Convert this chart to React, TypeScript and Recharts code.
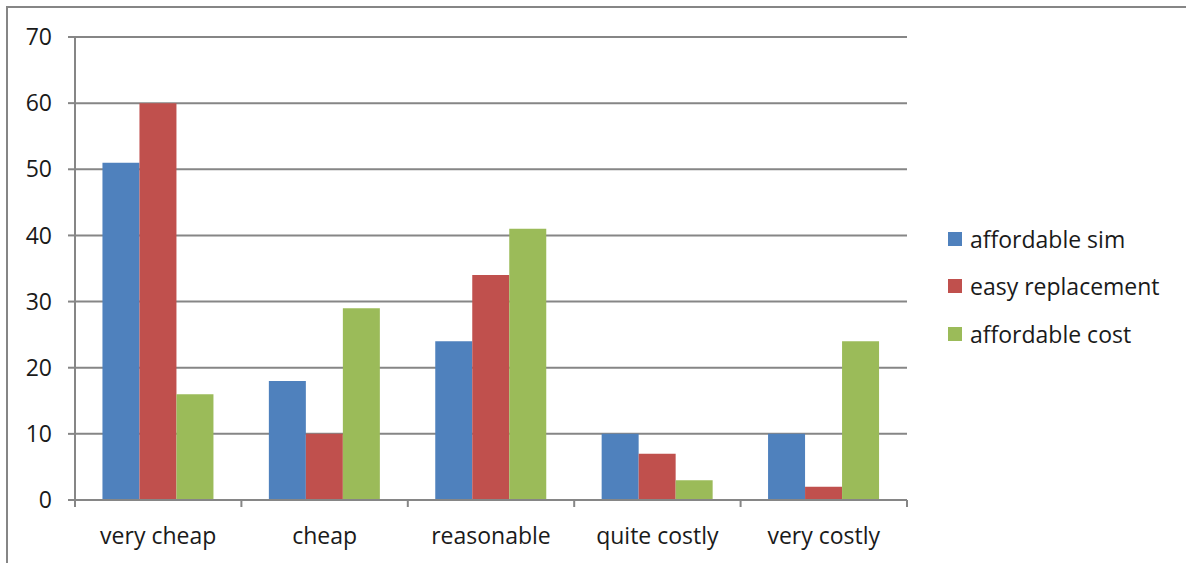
import React from "react";
import { Bar, BarChart, CartesianGrid, XAxis, YAxis } from "recharts";

const categories = ["very cheap", "cheap", "reasonable", "quite costly", "very costly"];
const affordableSim = [51, 18, 24, 10, 10];
const easyReplacement = [60, 10, 34, 7, 2];
const affordableCost = [16, 29, 41, 3, 24];
const yTicks = [0, 10, 20, 30, 40, 50, 60, 70];

const SERIES = [
  { key: "sim", name: "affordable sim", color: "#4F81BD" },
  { key: "repl", name: "easy replacement", color: "#C0504D" },
  { key: "cost", name: "affordable cost", color: "#9BBB59" },
];

const GRAY = "#868686";
const TEXT = "#1a1a1a";
const FONT = "'Open Sans', sans-serif";
const PLOT_LEFT = 75;
const PLOT_RIGHT = 907;
const STEP = (PLOT_RIGHT - PLOT_LEFT) / categories.length;

const data = categories.map((c, i) => ({
  name: c,
  sim: affordableSim[i],
  repl: easyReplacement[i],
  cost: affordableCost[i],
}));

function CatTick(props: any) {
  const { x, y, payload, index } = props;
  const last = index === categories.length - 1;
  return (
    <g>
      <line x1={x - STEP / 2} x2={x - STEP / 2} y1={y} y2={y + 7} stroke={GRAY} strokeWidth={2} />
      {last ? (
        <line x1={x + STEP / 2} x2={x + STEP / 2} y1={y} y2={y + 7} stroke={GRAY} strokeWidth={2} />
      ) : null}
      <text x={x} y={y + 44} textAnchor="middle" fontSize={23} fontFamily={FONT} fill={TEXT}>
        {payload.value}
      </text>
    </g>
  );
}

function LegendBox() {
  return (
    <div
      style={{
        position: "absolute",
        left: 948,
        top: 215,
        fontFamily: FONT,
        fontSize: 23,
        color: TEXT,
        zIndex: 2,
      }}
    >
      {SERIES.map((s) => (
        <div key={s.key} style={{ display: "flex", alignItems: "center", height: 47.5 }}>
          <span style={{ width: 14, height: 14, background: s.color, marginRight: 8, display: "inline-block" }} />
          <span style={{ whiteSpace: "nowrap" }}>{s.name}</span>
        </div>
      ))}
    </div>
  );
}

export default function App() {
  return (
    <div
      style={{
        position: "absolute",
        left: 0,
        top: 0,
        width: 1186,
        height: 563,
        overflow: "hidden",
        background: "#fff",
      }}
    >
      <div style={{ position: "absolute", left: 0, top: 0 }}>
        <BarChart
          width={1186}
          height={563}
          data={data}
          margin={{ top: 37, right: 1186 - PLOT_RIGHT, bottom: 0, left: 0 }}
          barCategoryGap="16.5%"
          barGap={0}
        >
          <CartesianGrid vertical={false} stroke={GRAY} strokeWidth={2} />
          <XAxis
            dataKey="name"
            height={63}
            tickLine={false}
            tickSize={0}
            tickMargin={0}
            axisLine={{ stroke: GRAY, strokeWidth: 2 }}
            tick={<CatTick />}
            interval={0}
          />
          <YAxis
            width={PLOT_LEFT}
            domain={[0, 70]}
            ticks={yTicks}
            interval={0}
            tickSize={7}
            tickMargin={16}
            tickLine={{ stroke: GRAY, strokeWidth: 2 }}
            axisLine={{ stroke: GRAY, strokeWidth: 2 }}
            tick={{ fontSize: 23, fontFamily: FONT, fill: TEXT }}
          />
          {SERIES.map((s) => (
            <Bar key={s.key} dataKey={s.key} name={s.name} fill={s.color} isAnimationActive={false} />
          ))}
        </BarChart>
      </div>
      <LegendBox />
      <div
        style={{
          position: "absolute",
          left: 6,
          top: 6,
          width: 1200,
          height: 600,
          borderLeft: `2px solid ${GRAY}`,
          borderTop: `2px solid ${GRAY}`,
          boxSizing: "border-box",
          pointerEvents: "none",
          zIndex: 3,
        }}
      />
    </div>
  );
}
